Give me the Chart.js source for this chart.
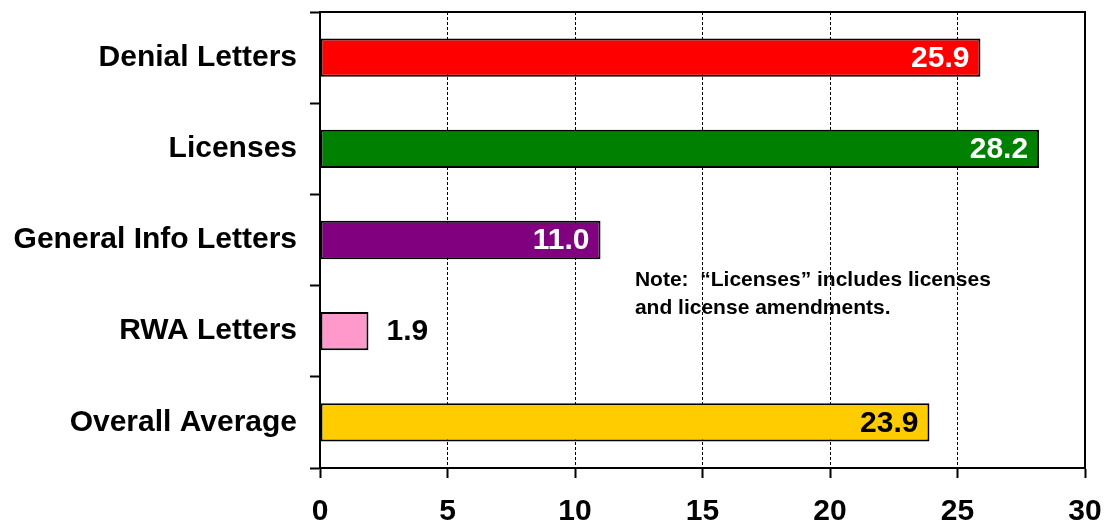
<!DOCTYPE html>
<html>
<head>
<meta charset="utf-8">
<script src="https://cdn.jsdelivr.net/npm/chart.js@4/dist/chart.umd.min.js"></script>
<style>
  html, body { margin: 0; padding: 0; background: #fff; }
  #wrap { width: 1106px; height: 529px; }
</style>
</head>
<body>
<div id="wrap"><canvas id="turnaround-chart"></canvas></div>
<script>
const categories = ['Denial Letters', 'Licenses', 'General Info Letters', 'RWA Letters', 'Overall Average'];
const avgDays = [25.9, 28.2, 11.0, 1.9, 23.9];
const barColors = ['#ff0000', '#008000', '#800080', '#ff99cc', '#ffcc00'];
const valueColors = ['#ffffff', '#ffffff', '#ffffff', '#000000', '#000000'];
const labelInside = [true, true, true, false, true];
const xTicks = [0, 5, 10, 15, 20, 25, 30];
const noteLines = ['Note:  \u201cLicenses\u201d includes licenses', 'and license amendments.'];

const FONT = '"Liberation Sans", Arial, Helvetica, sans-serif';

// value labels at the bar ends, plus the frame and the note
const barLabels = {
    id: 'barLabels',
    afterDatasetsDraw(chart) {
        const ctx = chart.ctx;
        const meta = chart.getDatasetMeta(0);
        ctx.save();
        ctx.font = 'bold 30px ' + FONT;
        ctx.textBaseline = 'middle';
        meta.data.forEach((bar, i) => {
            ctx.fillStyle = valueColors[i];
            const txt = avgDays[i].toFixed(1);
            if (labelInside[i]) {
                ctx.textAlign = 'right';
                ctx.fillText(txt, bar.x - 11, bar.y + 1);
            } else {
                ctx.textAlign = 'left';
                ctx.fillText(txt, bar.x + 18, bar.y + 1);
            }
        });
        ctx.restore();
    },
    afterDraw(chart) {
        const { ctx, chartArea, scales } = chart;
        ctx.save();
        ctx.strokeStyle = '#000';
        ctx.lineWidth = 2;
        ctx.strokeRect(chartArea.left, chartArea.top, chartArea.right - chartArea.left, chartArea.bottom - chartArea.top);

        ctx.fillStyle = '#000';
        ctx.font = 'bold 21px ' + FONT;
        ctx.textAlign = 'left';
        ctx.textBaseline = 'middle';
        const nx = scales.x.getPixelForValue(12.35);
        const ny = (scales.y.getPixelForValue(2) + scales.y.getPixelForValue(3)) / 2 - 5;
        noteLines.forEach((line, i) => ctx.fillText(line, nx, ny + i * 28));
        ctx.restore();
    }
};

const ctx = document.getElementById('turnaround-chart').getContext('2d');

new Chart(ctx, {
    type: 'bar',
    data: {
        labels: categories,
        datasets: [{
            data: avgDays,
            backgroundColor: barColors,
            borderColor: '#000',
            borderWidth: 2,
            borderSkipped: false,
            categoryPercentage: 1.0,
            barPercentage: 0.42
        }]
    },
    options: {
        indexAxis: 'y',
        responsive: true,
        maintainAspectRatio: false,
        animation: false,
        layout: { padding: { top: 12, right: 21, left: 0, bottom: 0 } },
        scales: {
            x: {
                min: 0,
                max: 30,
                afterBuildTicks: (axis) => { axis.ticks = xTicks.map(v => ({ value: v })); },
                afterFit: (axis) => {
                    axis.height = 61;
                    axis.paddingLeft = 0;
                    axis.paddingRight = 0;
                },
                grid: {
                    color: (c) => (c.tick && (c.tick.value === 0 || c.tick.value === 30)) ? 'rgba(0,0,0,0)' : '#000',
                    lineWidth: 1,
                    drawTicks: true,
                    tickLength: 10,
                    tickColor: '#000',
                    tickWidth: 2
                },
                border: { display: true, color: '#000', width: 2, dash: [3, 2] },
                ticks: {
                    color: '#000',
                    font: { family: FONT, size: 30, weight: 'bold' },
                    padding: 16,
                    maxRotation: 0
                }
            },
            y: {
                afterFit: (axis) => {
                    axis.width = 320;
                    axis.paddingTop = 0;
                    axis.paddingBottom = 0;
                },
                grid: {
                    offset: true,
                    drawOnChartArea: false,
                    drawTicks: true,
                    tickLength: 10,
                    tickColor: '#000',
                    tickWidth: 2
                },
                border: { display: true, color: '#000', width: 2 },
                ticks: {
                    color: '#000',
                    font: { family: FONT, size: 30, weight: 'bold' },
                    padding: 13
                }
            }
        },
        plugins: {
            legend: { display: false },
            tooltip: { enabled: false }
        }
    },
    plugins: [barLabels]
});
</script>
</body>
</html>
